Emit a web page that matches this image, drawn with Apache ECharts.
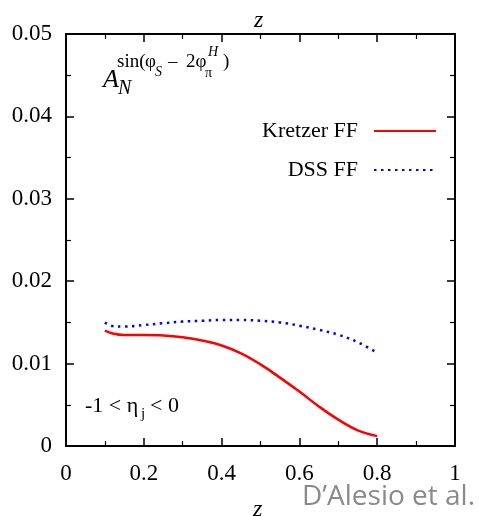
<!DOCTYPE html>
<html>
<head>
<meta charset="utf-8">
<script src="https://cdn.jsdelivr.net/npm/echarts@6/dist/echarts.min.js"></script>
<style>
  html, body { margin: 0; padding: 0; background: #fff; }
  #chart { width: 479px; height: 516px; }
</style>
</head>
<body>
<div id="chart"></div>
<script>
// values
const zValues = [0.1, 0.12, 0.15, 0.2, 0.25, 0.3, 0.35, 0.4, 0.45, 0.5, 0.55, 0.6, 0.65, 0.7, 0.75, 0.8];
const kretzer = [0.0140, 0.01365, 0.01347, 0.01347, 0.01342, 0.0132, 0.0128, 0.0122, 0.01125, 0.0099, 0.0083, 0.0066, 0.0048, 0.0032, 0.0019, 0.0012];
const dss = [0.0150, 0.01455, 0.01450, 0.01468, 0.0149, 0.0151, 0.0152, 0.0153, 0.0153, 0.0152, 0.0150, 0.0146, 0.0141, 0.0135, 0.0126, 0.0113];
const seriesNames = ['Kretzer FF', 'DSS FF'];

const chart = echarts.init(document.getElementById('chart'));
const serif = 'Liberation Serif';

const pairs = (ys) => zValues.map((z, i) => [z, ys[i]]);

const frameAxis = {
  axisLine: { show: true, onZero: false, lineStyle: { color: '#000', width: 2 } },
  axisTick: { show: true, inside: true, length: 8, lineStyle: { color: '#000', width: 1.5 } },
  minorTick: { show: true, splitNumber: 2, length: 5, lineStyle: { color: '#000', width: 1.2 } },
  splitLine: { show: false }
};

const option = {
  animation: false,
  grid: { left: 66, right: 24, top: 34, bottom: 70 },
  legend: {
    orient: 'vertical',
    right: 37,
    top: 115,
    align: 'right',
    itemWidth: 62,
    itemHeight: 12,
    itemGap: 17,
    itemStyle: { opacity: 0 },
    textStyle: { fontFamily: serif, fontSize: 22, color: '#000', padding: [0, 11, 0, 0] },
    data: seriesNames
  },
  xAxis: [
    Object.assign({
      type: 'value', min: 0, max: 1, interval: 0.2, position: 'bottom',
      axisLabel: { fontFamily: serif, fontSize: 23, color: '#000', margin: 16,
        formatter: v => String(+v.toFixed(1)) }
    }, frameAxis),
    Object.assign({
      type: 'value', min: 0, max: 1, interval: 0.2, position: 'top',
      axisLabel: { show: false }
    }, frameAxis)
  ],
  yAxis: [
    Object.assign({
      type: 'value', min: 0, max: 0.05, interval: 0.01, position: 'left',
      axisLabel: { fontFamily: serif, fontSize: 23, color: '#000', margin: 14,
        formatter: v => v === 0 ? '0' : v.toFixed(2) }
    }, frameAxis),
    Object.assign({
      type: 'value', min: 0, max: 0.05, interval: 0.01, position: 'right',
      axisLabel: { show: false }
    }, frameAxis)
  ],
  series: [
    {
      name: seriesNames[0], type: 'line', smooth: 0.4, symbol: 'none',
      data: pairs(kretzer),
      lineStyle: { color: '#ff0000', width: 2.5, type: 'solid' },
      itemStyle: { color: '#ff0000' }
    },
    {
      name: seriesNames[1], type: 'line', smooth: 0.4, symbol: 'none',
      data: pairs(dss),
      lineStyle: { color: '#0000ff', width: 2.5, type: [2.5, 4.5] },
      itemStyle: { color: '#0000ff' }
    }
  ],
  graphic: [
    { type: 'text', left: 254, top: 9, style: { text: 'z', font: 'italic 24px "Liberation Serif"', fill: '#000' } },
    { type: 'text', left: 253, top: 498, style: { text: 'z', font: 'italic 24px "Liberation Serif"', fill: '#000' } },
    { type: 'text', left: 302, top: 483, style: { text: 'D\u2019Alesio et al.', font: '28px "Open Sans"', fill: '#8a8a8a' } },
    // A_N^{sin(phi_S - 2 phi_pi^H)}
    { type: 'text', left: 103, top: 67, style: { text: 'A', font: 'italic 26px "Liberation Serif"', fill: '#000' } },
    { type: 'text', left: 118, top: 79, style: { text: 'N', font: 'italic 20px "Liberation Serif"', fill: '#000' } },
    { type: 'text', left: 117, top: 53, style: { text: 'sin(', font: '19px "Liberation Serif"', fill: '#000' } },
    { type: 'text', left: 145, top: 53, style: { text: '\u03c6', font: '19px "Liberation Serif"', fill: '#000' } },
    { type: 'text', left: 155, top: 65, style: { text: 'S', font: 'italic 14px "Liberation Serif"', fill: '#000' } },
    { type: 'text', left: 168, top: 53, style: { text: '\u2013', font: '19px "Liberation Serif"', fill: '#000' } },
    { type: 'text', left: 186, top: 53, style: { text: '2\u03c6', font: '19px "Liberation Serif"', fill: '#000' } },
    { type: 'text', left: 205, top: 66, style: { text: '\u03c0', font: '14px "Liberation Serif"', fill: '#000' } },
    { type: 'text', left: 208, top: 45, style: { text: 'H', font: 'italic 14px "Liberation Serif"', fill: '#000' } },
    { type: 'text', left: 223, top: 53, style: { text: ')', font: '19px "Liberation Serif"', fill: '#000' } },
    // -1 < eta_j < 0
    { type: 'text', left: 85, top: 395, style: { text: '-1 < \u03b7', font: '22px "Liberation Serif"', fill: '#000' } },
    { type: 'text', left: 141, top: 407, style: { text: 'j', font: '15px "Liberation Serif"', fill: '#000' } },
    { type: 'text', left: 150, top: 395, style: { text: '< 0', font: '22px "Liberation Serif"', fill: '#000' } }
  ]
};

chart.setOption(option);
</script>
</body>
</html>
